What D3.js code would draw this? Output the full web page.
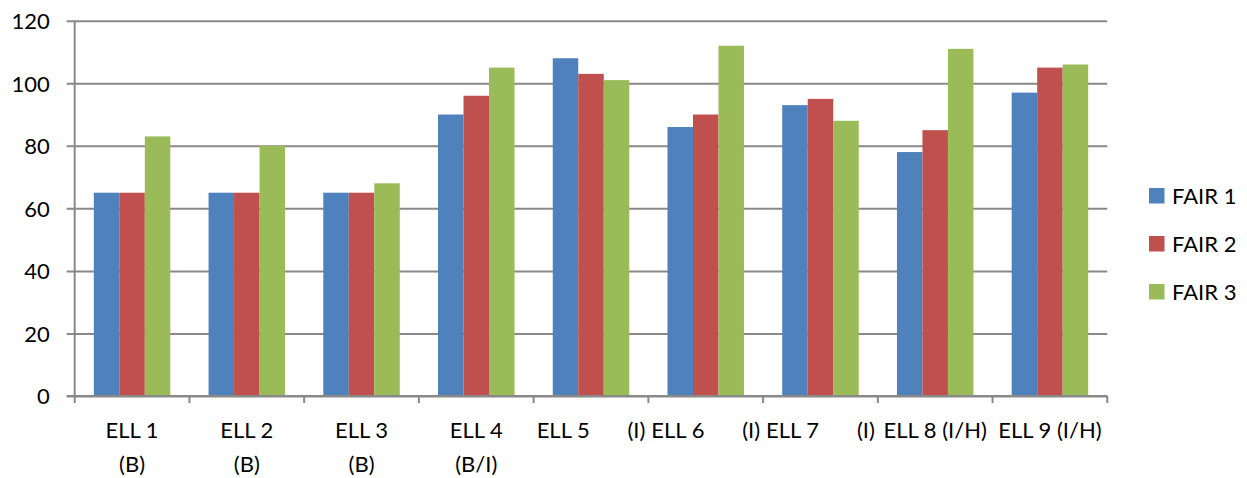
<!DOCTYPE html>
<html>
<head>
<meta charset="utf-8">
<script src="https://cdn.jsdelivr.net/npm/d3@7/dist/d3.min.js"></script>
<style>
  html, body { margin: 0; padding: 0; background: #fff; }
  svg { display: block; }
  text { font-family: Lato, "Open Sans", "Liberation Sans", sans-serif; fill: #000; }
</style>
</head>
<body>
<svg id="chart" width="1247" height="478"></svg>
<script>
// Category labels: "\n" breaks a label onto two lines, "\t" spreads the two parts across the band
const categories = ["ELL 1\n(B)", "ELL 2\n(B)", "ELL 3\n(B)", "ELL 4\n(B/I)", "ELL 5\t(I)",
                    "ELL 6\t(I)", "ELL 7\t(I)", "ELL 8 (I/H)", "ELL 9 (I/H)"];
const seriesNames = ["FAIR 1", "FAIR 2", "FAIR 3"];
const fair1 = [65, 65, 65, 90, 108, 86, 93, 78, 97];
const fair2 = [65, 65, 65, 96, 103, 90, 95, 85, 105];
const fair3 = [83, 80, 68, 105, 101, 112, 88, 111, 106];
const yTicks = [0, 20, 40, 60, 80, 100, 120];
const colors = ["#4F81BD", "#C0504D", "#9BBB59"];

const series = [fair1, fair2, fair3];
const svg = d3.select("#chart");

const plot = { left: 74.7, right: 1107.3, top: 20.7, bottom: 396 };
const gridColor = "#898989";
const fontSize = 22;

const x = d3.scaleBand().domain(d3.range(categories.length)).range([plot.left, plot.right]).padding(0);
const y = d3.scaleLinear().domain([0, 120]).range([plot.bottom, plot.top]);
const band = x.bandwidth();
// Gap width of 50%: the cluster fills two thirds of each band
const groupW = band / 1.5;
const inner = d3.scaleBand().domain(d3.range(series.length)).range([0, groupW]).padding(0);

// Horizontal gridlines with the value axis
const yAxis = d3.axisLeft(y).tickValues(yTicks).tickSize(plot.right - plot.left + 8).tickPadding(17);
const gy = svg.append("g")
  .attr("transform", `translate(${plot.right},0)`)
  .call(yAxis);
gy.select(".domain").remove();
gy.selectAll(".tick line").attr("stroke", gridColor).attr("stroke-width", 2);
gy.selectAll(".tick text").style("font-size", fontSize + "px").attr("dy", "0.36em").attr("fill", "#000");

// Bars
series.forEach((vals, si) => {
  svg.append("g").selectAll("rect")
    .data(vals)
    .join("rect")
    .attr("x", (d, i) => x(i) + (band - groupW) / 2 + inner(si))
    .attr("width", inner.bandwidth())
    .attr("y", d => y(d))
    .attr("height", d => y(0) - y(d))
    .attr("fill", colors[si]);
});

// Value axis line
svg.append("line")
  .attr("x1", plot.left).attr("x2", plot.left)
  .attr("y1", y(120)).attr("y2", y(0))
  .attr("stroke", gridColor).attr("stroke-width", 2);

// Category axis: line plus tick marks on band boundaries
const bounds = d3.range(categories.length + 1).map(i => i < categories.length ? x(i) : plot.right);
svg.append("line")
  .attr("x1", plot.left - 8).attr("x2", plot.right)
  .attr("y1", y(0)).attr("y2", y(0))
  .attr("stroke", gridColor).attr("stroke-width", 2);
svg.append("g").selectAll("line")
  .data(bounds)
  .join("line")
  .attr("x1", d => d).attr("x2", d => d)
  .attr("y1", y(0)).attr("y2", y(0) + 7)
  .attr("stroke", gridColor).attr("stroke-width", 2);

// Category labels
const labelBase = y(0) + 42;
const lineGap = 33.5;
const spreadInset = 3;
const gl = svg.append("g").style("font-size", fontSize + "px");
categories.forEach((lab, i) => {
  const cx = x(i) + band / 2;
  if (lab.includes("\t")) {
    const [a, b] = lab.split("\t");
    gl.append("text").attr("x", x(i) + spreadInset).attr("y", labelBase).attr("text-anchor", "start").text(a);
    gl.append("text").attr("x", x(i) + band - spreadInset).attr("y", labelBase).attr("text-anchor", "end").text(b);
  } else {
    lab.split("\n").forEach((line, li) => {
      gl.append("text").attr("x", cx).attr("y", labelBase + li * lineGap)
        .attr("text-anchor", "middle").text(line);
    });
  }
});

// Legend
const legend = svg.append("g").attr("transform", "translate(1149,188)");
seriesNames.forEach((name, i) => {
  const row = legend.append("g").attr("transform", `translate(0,${i * 48})`);
  row.append("rect").attr("width", 15.5).attr("height", 15.5).attr("fill", colors[i]);
  row.append("text").attr("x", 23).attr("y", 15.5).style("font-size", fontSize + "px").text(name);
});
</script>
</body>
</html>
